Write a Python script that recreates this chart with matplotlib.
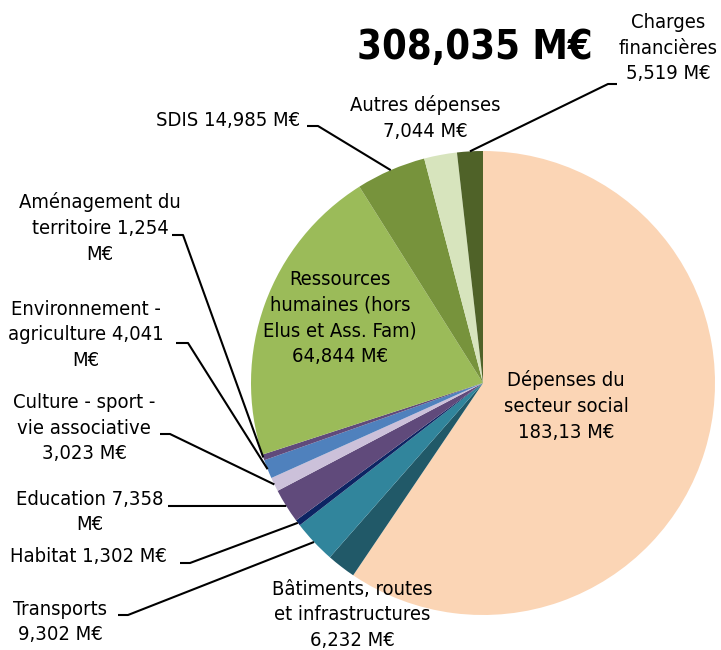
import matplotlib
matplotlib.use("Agg")
import matplotlib.pyplot as plt
import numpy as np

plt.rcParams['font.family'] = ['DejaVu Sans']

# ---- data ----
categories = [
    "Dépenses du\nsecteur social\n183,13 M€",
    "Bâtiments, routes\net infrastructures\n6,232 M€",
    "Transports\n9,302 M€",
    "Habitat 1,302 M€",
    "Education 7,358\nM€",
    "Culture - sport -\nvie associative\n3,023 M€",
    "Environnement -\nagriculture 4,041\nM€",
    "Aménagement du\nterritoire 1,254\nM€",
    "Ressources\nhumaines (hors\nElus et Ass. Fam)\n64,844 M€",
    "SDIS 14,985 M€",
    "Autres dépenses\n7,044 M€",
    "Charges\nfinancières\n5,519 M€",
]
values = [183.13, 6.232, 9.302, 1.302, 7.358, 3.023, 4.041, 1.254, 64.844, 14.985, 7.044, 5.519]
colors = ["#FBD5B5", "#215968", "#31859C", "#0D2463", "#604A7B", "#CCC1DA",
          "#4F81BD", "#604A7B", "#9BBB59", "#77933C", "#D7E4BD", "#4F6228"]
title_text = "308,035 M€"

W, H = 721, 650
fig = plt.figure(figsize=(W / 100, H / 100), dpi=100)
ax = fig.add_axes([0, 0, 1, 1])

cx, cy, R = 483, H - 383, 232
wedges, _ = ax.pie(values, colors=colors, startangle=90, counterclock=False,
                   center=(cx, cy), radius=R, frame=True,
                   wedgeprops=dict(linewidth=0))
ax.set_xlim(0, W)
ax.set_ylim(0, H)
ax.set_aspect('equal')
ax.axis('off')

FS = 14.5
fkw = dict(fontsize=FS, fontstretch='condensed', color='black',
           ha='center', va='center', linespacing=1.45)

# layout: (text x, text y in px from top), (elbow start x, elbow end x, elbow y) ; None = no leader
layout = {
    0: ((566, 406), None),
    1: ((352, 615), None),
    2: ((60, 622), (118, 128, 615)),
    3: ((88, 556), (180, 190, 563)),
    4: ((90, 512), (168, 178, 506)),
    5: ((84, 428), (160, 170, 434)),
    6: ((86, 335), (176, 188, 343)),
    7: ((100, 228), (172, 183, 235)),
    8: ((340, 318), None),
    9: ((228, 121), (307, 318, 126)),
    10: ((425, 118), None),
    11: ((668, 48), (617, 608, 84)),
}

for i, w in enumerate(wedges):
    (tx, ty), lead = layout[i]
    ax.text(tx, H - ty, categories[i], **fkw)
    if lead is not None:
        ang = np.deg2rad((w.theta1 + w.theta2) / 2)
        px = cx + R * np.cos(ang)
        py = cy + R * np.sin(ang)
        x0, x1, ly = lead
        ax.plot([x0, x1, px], [H - ly, H - ly, py], color='black', lw=1.5,
                solid_capstyle='butt')

ax.text(475, H - 48, title_text, fontsize=28.5, fontweight='bold',
        fontstretch='condensed', ha='center', va='center')

fig.savefig("out.png", dpi=100)
